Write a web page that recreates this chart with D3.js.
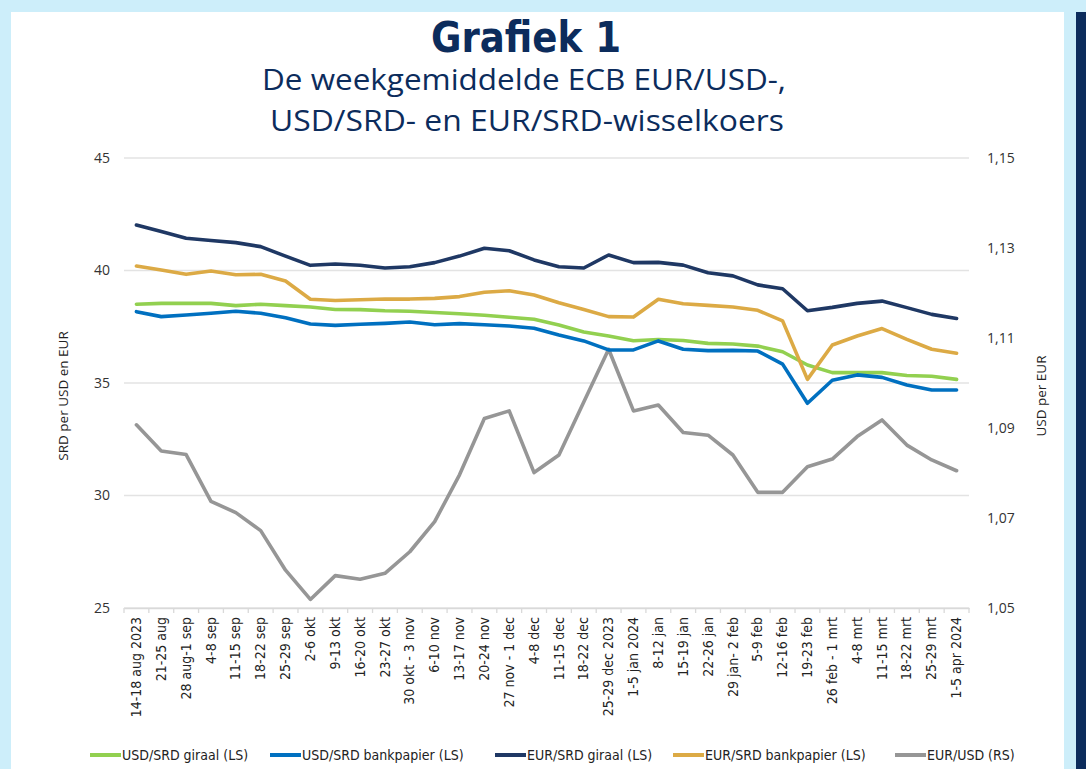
<!DOCTYPE html>
<html>
<head>
<meta charset="utf-8">
<script src="https://cdn.jsdelivr.net/npm/d3@7"></script>
<style>
  body { margin: 0; background: #fff; }
  text { font-family: "Open Sans", "Noto Sans", sans-serif; }
</style>
</head>
<body>
<div id="chart"></div>
<script>
// weeks on the x axis
var weeks = ["14-18 aug 2023", "21-25 aug", "28 aug-1 sep", "4-8 sep", "11-15 sep", "18-22 sep",
    "25-29 sep", "2-6 okt", "9-13 okt", "16-20 okt", "23-27 okt", "30 okt - 3 nov", "6-10 nov",
    "13-17 nov", "20-24 nov", "27 nov - 1 dec", "4-8 dec", "11-15 dec", "18-22 dec",
    "25-29 dec 2023", "1-5 jan 2024", "8-12 jan", "15-19 jan", "22-26 jan", "29 jan- 2 feb",
    "5-9 feb", "12-16 feb", "19-23 feb", "26 feb - 1 mrt", "4-8 mrt", "11-15 mrt", "18-22 mrt",
    "25-29 mrt", "1-5 apr 2024"];

// left scale (SRD)
var usdSrdGiraal = [38.50, 38.54, 38.54, 38.54, 38.44, 38.50, 38.44, 38.38, 38.27, 38.26, 38.21, 38.19,
    38.13, 38.08, 38.01, 37.92, 37.83, 37.58, 37.27, 37.09, 36.88, 36.93, 36.89, 36.76, 36.73,
    36.64, 36.39, 35.80, 35.46, 35.46, 35.46, 35.33, 35.30, 35.16];
var usdSrdBank = [38.17, 37.95, 38.02, 38.10, 38.19, 38.10, 37.90, 37.62, 37.56, 37.61, 37.65, 37.71,
    37.59, 37.64, 37.59, 37.53, 37.43, 37.13, 36.87, 36.47, 36.47, 36.87, 36.50, 36.44, 36.45,
    36.42, 35.84, 34.10, 35.12, 35.36, 35.25, 34.91, 34.69, 34.69];
var eurSrdGiraal = [42.02, 41.73, 41.43, 41.33, 41.24, 41.06, 40.64, 40.23, 40.29, 40.23, 40.11, 40.17,
    40.35, 40.64, 40.99, 40.88, 40.47, 40.17, 40.11, 40.69, 40.35, 40.36, 40.24, 39.90, 39.76,
    39.36, 39.19, 38.21, 38.36, 38.54, 38.64, 38.35, 38.05, 37.87];
var eurSrdBank = [40.20, 40.02, 39.83, 39.98, 39.81, 39.83, 39.53, 38.72, 38.67, 38.70, 38.73, 38.73,
    38.76, 38.84, 39.03, 39.10, 38.91, 38.57, 38.27, 37.95, 37.93, 38.72, 38.52, 38.45, 38.38,
    38.23, 37.76, 35.16, 36.69, 37.09, 37.42, 36.94, 36.50, 36.32];

// right scale (USD per EUR)
var eurUsd = [1.0907, 1.0849, 1.0841, 1.0737, 1.0712, 1.0672, 1.0584, 1.0519, 1.0572, 1.0564, 1.0577,
    1.0625, 1.0692, 1.0796, 1.0921, 1.0938, 1.0801, 1.0840, 1.0958, 1.1075, 1.0938, 1.0951,
    1.0890, 1.0884, 1.0840, 1.0757, 1.0757, 1.0814, 1.0831, 1.0881, 1.0918, 1.0862, 1.0829, 1.0805];

var leftTicks = [25, 30, 35, 40, 45];
var rightTicks = [1.05, 1.07, 1.09, 1.11, 1.13, 1.15];

var series = [
    {name: "USD/SRD giraal (LS)", values: usdSrdGiraal, color: "#92d050", axis: "left"},
    {name: "USD/SRD bankpapier (LS)", values: usdSrdBank, color: "#0070c0", axis: "left"},
    {name: "EUR/SRD giraal (LS)", values: eurSrdGiraal, color: "#1f3864", axis: "left"},
    {name: "EUR/SRD bankpapier (LS)", values: eurSrdBank, color: "#dcaa45", axis: "left"},
    {name: "EUR/USD (RS)", values: eurUsd, color: "#969696", axis: "right"}
];

var width = 1086,
    height = 769,
    margin = {left: 124, right: 117, top: 158, bottom: 161},
    navy = "#0c2c5c",
    frameBlue = "#cdeefa";

var svg = d3.select("#chart").append("svg")
    .attr("width", width)
    .attr("height", height);

// frame around the page
svg.append("rect").attr("x", 0).attr("y", 0).attr("width", width).attr("height", 12).attr("fill", frameBlue);
svg.append("rect").attr("x", 0).attr("y", 0).attr("width", 11).attr("height", height).attr("fill", frameBlue);
svg.append("rect").attr("x", 1064).attr("y", 0).attr("width", 22).attr("height", height).attr("fill", frameBlue);
svg.append("rect").attr("x", 1076).attr("y", 12).attr("width", 10).attr("height", height - 12).attr("fill", navy);

// titles
svg.append("text")
    .attr("x", 526).attr("y", 52)
    .attr("text-anchor", "middle")
    .attr("textLength", 190).attr("lengthAdjust", "spacingAndGlyphs")
    .style("font-family", "'DejaVu Sans Condensed', 'DejaVu Sans', sans-serif")
    .style("font-weight", "bold")
    .style("font-size", "42px")
    .attr("fill", navy)
    .text("Grafiek 1");

svg.append("text")
    .attr("x", 524).attr("y", 90)
    .attr("text-anchor", "middle")
    .attr("textLength", 524).attr("lengthAdjust", "spacingAndGlyphs")
    .style("font-size", "29px")
    .attr("fill", navy)
    .text("De weekgemiddelde ECB EUR/USD-,");

svg.append("text")
    .attr("x", 527).attr("y", 131)
    .attr("text-anchor", "middle")
    .attr("textLength", 514).attr("lengthAdjust", "spacingAndGlyphs")
    .style("font-size", "29px")
    .attr("fill", navy)
    .text("USD/SRD- en EUR/SRD-wisselkoers");

var plotW = width - margin.left - margin.right,
    plotH = height - margin.top - margin.bottom;

var g = svg.append("g")
    .attr("transform", "translate(" + margin.left + "," + margin.top + ")");

var x = d3.scaleBand().domain(weeks).range([0, plotW]);
var yL = d3.scaleLinear().domain([25, 45]).range([plotH, 0]);
var yR = d3.scaleLinear().domain([1.05, 1.15]).range([plotH, 0]);
var comma = d3.formatLocale({decimal: ",", thousands: ".", grouping: [3], currency: ["", ""]}).format(".2f");

// gridlines
g.selectAll(".grid").data(leftTicks).enter().append("line")
    .attr("class", "grid")
    .attr("x1", 0).attr("x2", plotW)
    .attr("y1", function(d) { return yL(d); })
    .attr("y2", function(d) { return yL(d); })
    .attr("stroke", "#e3e3e3").attr("stroke-width", 1.3);

// left axis
var leftAxis = g.append("g").call(d3.axisLeft(yL).tickValues(leftTicks).tickSize(0).tickPadding(14));
leftAxis.select(".domain").remove();
leftAxis.selectAll("text").style("font-size", "14px").attr("fill", "#333");

// right axis
var rightAxis = g.append("g")
    .attr("transform", "translate(" + plotW + ",0)")
    .call(d3.axisRight(yR).tickValues(rightTicks).tickFormat(comma).tickSize(0).tickPadding(18));
rightAxis.select(".domain").remove();
rightAxis.selectAll("text").style("font-size", "14px").attr("fill", "#333");

// x axis with ticks on band edges
var xAxis = g.append("g")
    .attr("transform", "translate(0," + plotH + ")")
    .call(d3.axisBottom(x).tickSize(0).tickPadding(0));
xAxis.select(".domain").attr("stroke", "#d9d9d9").attr("stroke-width", 1.3);
xAxis.selectAll("text")
    .attr("transform", "rotate(-90)")
    .attr("x", -9).attr("y", 0).attr("dy", "0.33em")
    .style("text-anchor", "end")
    .style("font-family", "'Liberation Sans Narrow', 'DejaVu Sans Condensed', sans-serif")
    .style("font-size", "14px")
    .attr("fill", "#222");

g.selectAll(".xtick").data(weeks.concat(["end"])).enter().append("line")
    .attr("class", "xtick")
    .attr("x1", function(d, i) { return i * x.step(); })
    .attr("x2", function(d, i) { return i * x.step(); })
    .attr("y1", plotH).attr("y2", plotH + 5)
    .attr("stroke", "#d9d9d9").attr("stroke-width", 1.3);

// axis titles
svg.append("text")
    .attr("transform", "translate(68," + (margin.top + plotH / 2 + 13) + ") rotate(-90)")
    .attr("text-anchor", "middle")
    .style("font-size", "13.5px")
    .attr("fill", "#222")
    .text("SRD per USD en EUR");

svg.append("text")
    .attr("transform", "translate(1046," + (margin.top + plotH / 2 + 13) + ") rotate(-90)")
    .attr("text-anchor", "middle")
    .style("font-size", "13.5px")
    .attr("fill", "#222")
    .text("USD per EUR");

// lines (gray one under the rest)
var drawOrder = [series[4], series[0], series[1], series[3], series[2]];
drawOrder.forEach(function(s) {
    var yS = s.axis == "left" ? yL : yR;
    var line = d3.line()
        .x(function(d, i) { return x(weeks[i]) + x.bandwidth() / 2; })
        .y(function(d) { return yS(d); });
    g.append("path")
        .datum(s.values)
        .attr("d", line)
        .attr("fill", "none")
        .attr("stroke", s.color)
        .attr("stroke-width", 3.6)
        .attr("stroke-linejoin", "round")
        .attr("stroke-linecap", "round");
});

// legend
var legendX = [90, 270, 495, 673, 895];
var legend = svg.selectAll(".legend").data(series).enter().append("g")
    .attr("class", "legend")
    .attr("transform", function(d, i) { return "translate(" + legendX[i] + ",755)"; });

legend.append("line")
    .attr("x1", 0).attr("x2", 31)
    .attr("stroke", function(d) { return d.color; })
    .attr("stroke-width", 4);

legend.append("text")
    .attr("x", 32).attr("dy", "0.35em")
    .style("font-family", "'Liberation Sans Narrow', 'DejaVu Sans Condensed', sans-serif")
    .style("font-size", "14px")
    .attr("fill", "#222")
    .text(function(d) { return d.name; });
</script>
</body>
</html>
